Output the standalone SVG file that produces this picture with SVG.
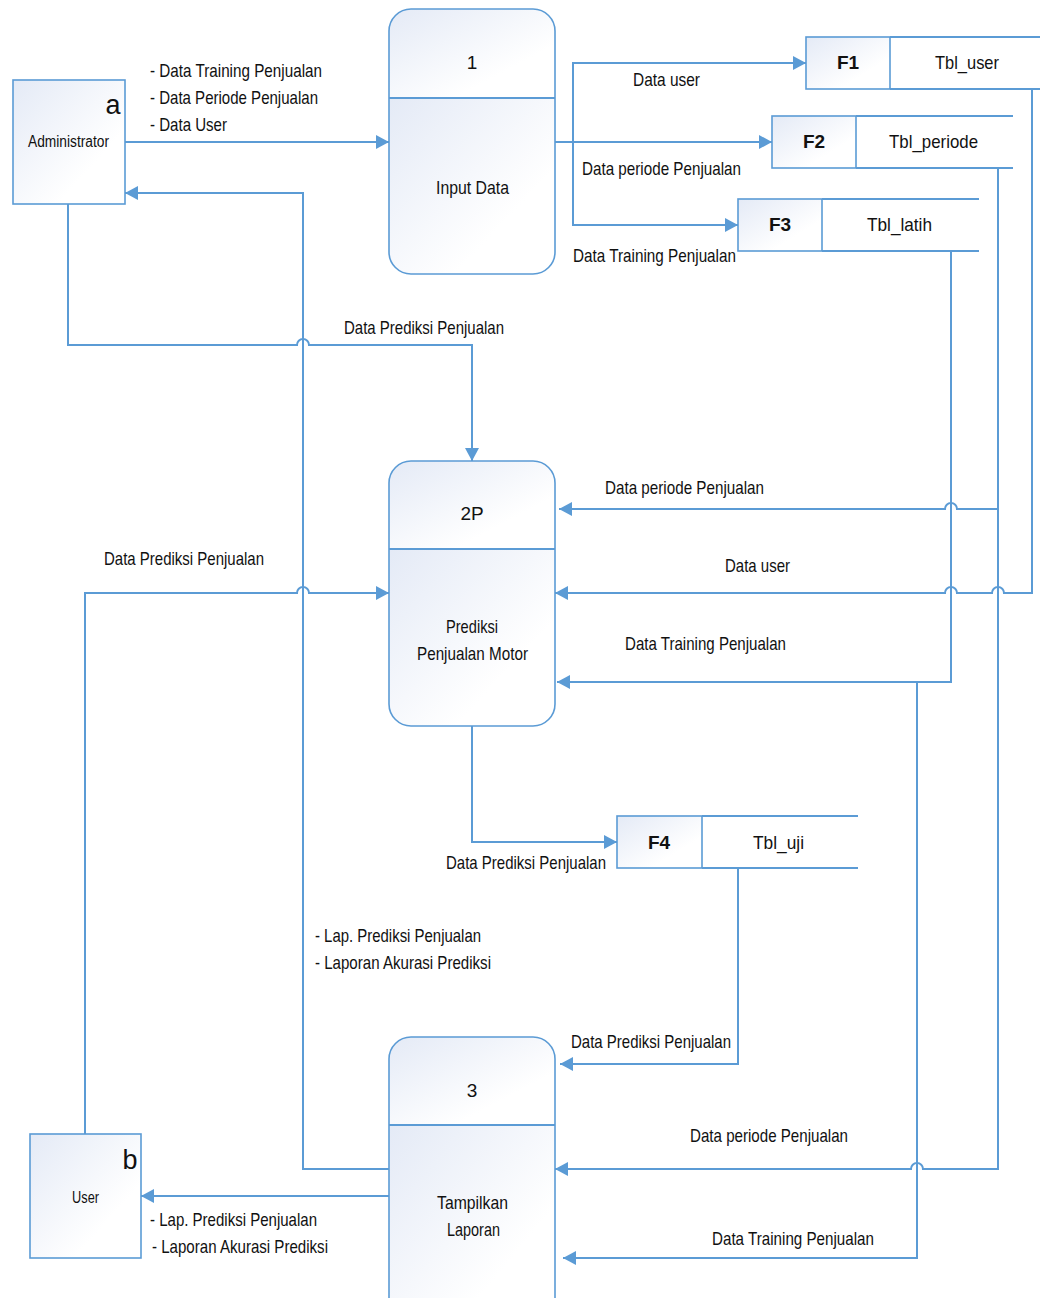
<svg xmlns="http://www.w3.org/2000/svg" width="1040" height="1298" viewBox="0 0 1040 1298">
  <defs>
    <linearGradient id="shade" x1="0" y1="0" x2="1" y2="1">
      <stop offset="0" stop-color="#E4EAF6"/>
      <stop offset="0.7" stop-color="#FFFFFF"/>
    </linearGradient>
    <clipPath id="clip-p1"><rect x="389" y="9" width="166" height="265" rx="22"/></clipPath>
    <clipPath id="clip-p2"><rect x="389" y="461" width="166" height="265" rx="22"/></clipPath>
    <clipPath id="clip-p3"><rect x="389" y="1037" width="166" height="290" rx="22"/></clipPath>
    <marker id="arrow" markerUnits="userSpaceOnUse" markerWidth="14" markerHeight="14" refX="13" refY="7" orient="auto">
      <path d="M0,0 L13,7 L0,14 z" fill="#5B9BD5"/>
    </marker>
    <style>
      .shape { fill: url(#shade); stroke: #5B9BD5; stroke-width: 1.6; }
      .fill { fill: url(#shade); stroke: none; }
      .outline { fill: none; stroke: #5B9BD5; stroke-width: 1.6; }
      .flow { fill: none; stroke: #5B9BD5; stroke-width: 2; marker-end: url(#arrow); }
      .line { fill: none; stroke: #5B9BD5; stroke-width: 1.8; }
      text { font-family: "Liberation Sans", Arial, sans-serif; font-size: 19px; fill: #111; }
      .c { text-anchor: middle; }
      .small { font-size: 16px; }
      .big { font-size: 27px; }
      .bold { font-weight: bold; }
    </style>
  </defs>
  <rect width="1040" height="1298" fill="#FFFFFF"/>

  <!-- connectors -->
  <g id="connectors">
    <path class="flow" d="M125,142 H389"/>
    <path class="flow" d="M389,1169 H303 V193 H125"/>
    <path class="flow" d="M68,204 V345 H297 A6,6 0 0 1 309,345 H472 V461"/>
    <path class="flow" d="M555,142 H772"/>
    <path class="flow" d="M573,142 V63 H806"/>
    <path class="flow" d="M573,142 V225 H738"/>
    <path class="flow" d="M1032,89 V593 H1004 A6,6 0 0 0 992,593 H957 A6,6 0 0 0 945,593 H555"/>
    <path class="flow" d="M998,168 V1169 H923 A6,6 0 0 0 911,1169 H555"/>
    <path class="flow" d="M998,509 H957 A6,6 0 0 0 945,509 H559"/>
    <path class="flow" d="M951,251 V682 H557"/>
    <path class="flow" d="M917,682 V1258 H563"/>
    <path class="flow" d="M85,1134 V593 H297 A6,6 0 0 1 309,593 H389"/>
    <path class="flow" d="M472,726 V842 H617"/>
    <path class="flow" d="M738,868 V1064 H560"/>
    <path class="flow" d="M389,1196 H141"/>
  </g>

  <!-- external entities -->
  <g id="entity-admin">
    <rect class="shape" x="13" y="80" width="112" height="124"/>
    <text class="big c" x="113" y="114">a</text>
    <text class="small" x="28" y="147" textLength="81" lengthAdjust="spacingAndGlyphs">Administrator</text>
  </g>
  <g id="entity-user">
    <rect class="shape" x="30" y="1134" width="111" height="124"/>
    <text class="big c" x="130" y="1169">b</text>
    <text class="small" x="72" y="1203" textLength="27" lengthAdjust="spacingAndGlyphs">User</text>
  </g>

  <!-- processes: id compartment on top, name compartment below -->
  <g id="process-1">
    <g clip-path="url(#clip-p1)">
      <rect class="fill" x="389" y="9" width="166" height="89"/>
      <rect class="fill" x="389" y="98" width="166" height="176"/>
    </g>
    <rect class="outline" x="389" y="9" width="166" height="265" rx="22"/>
    <line class="line" x1="389" y1="98" x2="555" y2="98"/>
    <text class="c" x="472" y="69">1</text>
    <text x="436" y="194" textLength="73" lengthAdjust="spacingAndGlyphs">Input Data</text>
  </g>
  <g id="process-2">
    <g clip-path="url(#clip-p2)">
      <rect class="fill" x="389" y="461" width="166" height="88"/>
      <rect class="fill" x="389" y="549" width="166" height="177"/>
    </g>
    <rect class="outline" x="389" y="461" width="166" height="265" rx="22"/>
    <line class="line" x1="389" y1="549" x2="555" y2="549"/>
    <text class="c" x="472" y="520">2P</text>
    <text x="446" y="633" textLength="52" lengthAdjust="spacingAndGlyphs">Prediksi</text>
    <text x="417" y="660" textLength="111" lengthAdjust="spacingAndGlyphs">Penjualan Motor</text>
  </g>
  <g id="process-3">
    <g clip-path="url(#clip-p3)">
      <rect class="fill" x="389" y="1037" width="166" height="88"/>
      <rect class="fill" x="389" y="1125" width="166" height="202"/>
    </g>
    <rect class="outline" x="389" y="1037" width="166" height="290" rx="22"/>
    <line class="line" x1="389" y1="1125" x2="555" y2="1125"/>
    <text class="c" x="472" y="1097">3</text>
    <text x="437" y="1209" textLength="71" lengthAdjust="spacingAndGlyphs">Tampilkan</text>
    <text x="447" y="1236" textLength="53" lengthAdjust="spacingAndGlyphs">Laporan</text>
  </g>

  <!-- data stores -->
  <g id="store-f1">
    <rect class="shape" x="806" y="37" width="84" height="52"/>
    <path class="line" d="M890,37 H1040 M890,89 H1040"/>
    <text class="c bold" x="848" y="69">F1</text>
    <text x="935" y="69" textLength="64" lengthAdjust="spacingAndGlyphs">Tbl_user</text>
  </g>
  <g id="store-f2">
    <rect class="shape" x="772" y="116" width="84" height="52"/>
    <path class="line" d="M856,116 H1013 M856,168 H1013"/>
    <text class="c bold" x="814" y="148">F2</text>
    <text x="889" y="148" textLength="89" lengthAdjust="spacingAndGlyphs">Tbl_periode</text>
  </g>
  <g id="store-f3">
    <rect class="shape" x="738" y="199" width="84" height="52"/>
    <path class="line" d="M822,199 H979 M822,251 H979"/>
    <text class="c bold" x="780" y="231">F3</text>
    <text x="867" y="231" textLength="65" lengthAdjust="spacingAndGlyphs">Tbl_latih</text>
  </g>
  <g id="store-f4">
    <rect class="shape" x="617" y="816" width="85" height="52"/>
    <path class="line" d="M702,816 H858 M702,868 H858"/>
    <text class="c bold" x="659" y="849">F4</text>
    <text x="753" y="849" textLength="51" lengthAdjust="spacingAndGlyphs">Tbl_uji</text>
  </g>

  <!-- flow labels -->
  <g id="labels">
    <text x="150" y="77" textLength="172" lengthAdjust="spacingAndGlyphs">- Data Training Penjualan</text>
    <text x="150" y="104" textLength="168" lengthAdjust="spacingAndGlyphs">- Data Periode Penjualan</text>
    <text x="150" y="131" textLength="77" lengthAdjust="spacingAndGlyphs">- Data User</text>
    <text x="633" y="86" textLength="67" lengthAdjust="spacingAndGlyphs">Data user</text>
    <text x="582" y="175" textLength="159" lengthAdjust="spacingAndGlyphs">Data periode Penjualan</text>
    <text x="573" y="262" textLength="163" lengthAdjust="spacingAndGlyphs">Data Training Penjualan</text>
    <text x="344" y="334" textLength="160" lengthAdjust="spacingAndGlyphs">Data Prediksi Penjualan</text>
    <text x="605" y="494" textLength="159" lengthAdjust="spacingAndGlyphs">Data periode Penjualan</text>
    <text x="725" y="572" textLength="65" lengthAdjust="spacingAndGlyphs">Data user</text>
    <text x="625" y="650" textLength="161" lengthAdjust="spacingAndGlyphs">Data Training Penjualan</text>
    <text x="104" y="565" textLength="160" lengthAdjust="spacingAndGlyphs">Data Prediksi Penjualan</text>
    <text x="446" y="869" textLength="160" lengthAdjust="spacingAndGlyphs">Data Prediksi Penjualan</text>
    <text x="315" y="942" textLength="166" lengthAdjust="spacingAndGlyphs">- Lap. Prediksi Penjualan</text>
    <text x="315" y="969" textLength="176" lengthAdjust="spacingAndGlyphs">- Laporan Akurasi Prediksi</text>
    <text x="571" y="1048" textLength="160" lengthAdjust="spacingAndGlyphs">Data Prediksi Penjualan</text>
    <text x="690" y="1142" textLength="158" lengthAdjust="spacingAndGlyphs">Data periode Penjualan</text>
    <text x="712" y="1245" textLength="162" lengthAdjust="spacingAndGlyphs">Data Training Penjualan</text>
    <text x="150" y="1226" textLength="167" lengthAdjust="spacingAndGlyphs">- Lap. Prediksi Penjualan</text>
    <text x="152" y="1253" textLength="176" lengthAdjust="spacingAndGlyphs">- Laporan Akurasi Prediksi</text>
  </g>
</svg>
